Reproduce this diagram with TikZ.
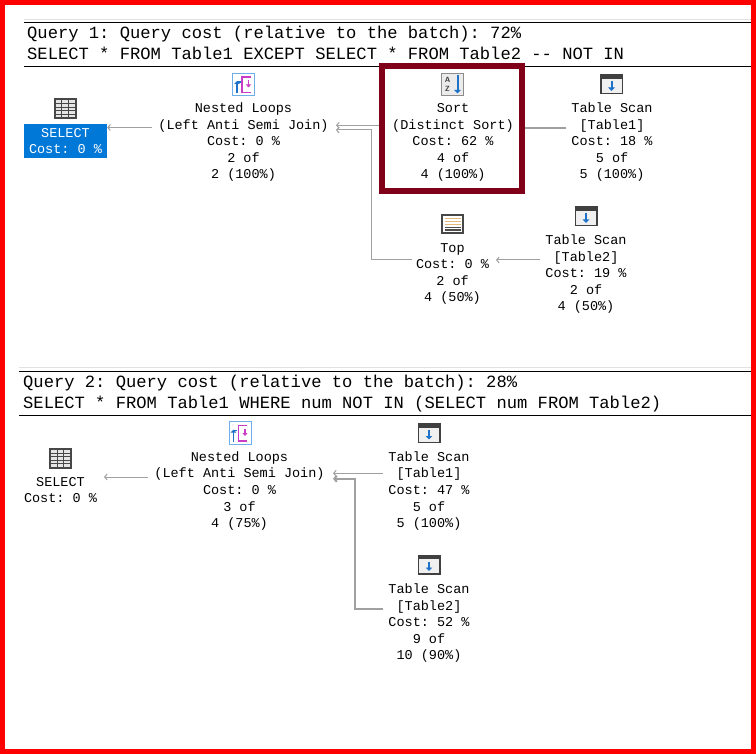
\documentclass[tikz,border=0pt]{standalone}
\usepackage{fontspec}
\setmonofont{Liberation Mono}
\usetikzlibrary{arrows.meta}
\definecolor{selblue}{RGB}{0,120,215}
\definecolor{sortred}{RGB}{128,0,26}
\definecolor{conngray}{RGB}{160,160,160}
\definecolor{iconblue}{RGB}{30,115,200}
\definecolor{iconlblue}{RGB}{110,175,235}
\definecolor{iconmag}{RGB}{200,60,200}
\definecolor{icontan}{RGB}{225,185,120}
\definecolor{headgray}{RGB}{225,225,225}
\tikzset{
  optext/.style={font=\fontsize{13.5}{16.6}\selectfont\ttfamily, align=center, inner sep=0pt, anchor=north, text=black},
  hdr/.style={font=\fontsize{17.15}{21}\selectfont\ttfamily, anchor=base west, inner sep=0pt},
  conn/.style={draw=conngray, line width=1pt},
  arr/.style={conn, -{Straight Barb[length=2.5pt,width=6pt]}},
  tblicon/.pic={
    \fill[black!72] (-11.5,-10.5) rectangle (11.5,10.5);
    \fill[black!10] (-9.5,-8.5) rectangle (9.5,8.5);
    \foreach \yy in {-4.6,-1.2,2.2,5.6} \draw[black!72, line width=1.1pt] (-9.5,\yy) -- (9.5,\yy);
    \foreach \xx in {-3.2,3.2} \draw[black!72, line width=1.1pt] (\xx,-8.5) -- (\xx,8.5);
  },
  scanicon/.pic={
    \fill[black!75] (-11.5,-10) rectangle (11.5,10);
    \fill[black!6] (-10,-5.5) rectangle (10,8.5);
    \draw[iconblue, line width=2pt, -{Triangle[length=3.5pt,width=6.5pt]}] (0,-3) -- (0,6.5);
  },
  sorticon/.pic={
    \fill[black!45] (-11.5,-11.5) rectangle (11.5,11.5);
    \fill[black!8] (-10.5,-10.5) rectangle (10.5,10.5);
    \node[inner sep=0, font=\fontsize{7.5}{8}\selectfont\sffamily\bfseries, text=black!75] at (-5,-4.5) {A};
    \node[inner sep=0, font=\fontsize{7.5}{8}\selectfont\sffamily\bfseries, text=black!75] at (-5,4.8) {Z};
    \draw[iconblue, line width=2pt, -{Triangle[length=3.5pt,width=6.5pt]}] (5,-9) -- (5,9);
  },
  nlicon/.pic={
    \draw[iconlblue, line width=1pt, fill=white] (-11,-11) rectangle (11,11);
    \draw[iconmag, line width=1.6pt] (7,-7.5) -- (-1.5,-7.5) -- (-1.5,8) -- (7,8);
    \draw[iconmag, line width=1.6pt, -{Triangle[length=3pt,width=5pt]}] (5,-4) -- (5,3);
    \draw[iconblue, line width=1.6pt, -{Triangle[length=3pt,width=5.5pt]}] (-6.5,9) -- (-6.5,-3.5);
    \draw[iconblue, line width=1.4pt] (-6.5,-2.5) -- (-3,-2.5);
  },
  topicon/.pic={
    \fill[black!72] (-11.5,-10) rectangle (11.5,10);
    \fill[white] (-9.5,-8) rectangle (9.5,8);
    \foreach \yy in {-5.5,-2.5,0.5} \draw[icontan, line width=1.4pt] (-8,\yy) -- (8,\yy);
    \foreach \yy in {3.5,6} \draw[black!70, line width=1.2pt] (-8,\yy) -- (8,\yy);
  },
}
\begin{document}
\begin{tikzpicture}[x=1pt,y=-1pt]
\useasboundingbox (0,0) rectangle (756,754);
\fill[white] (0,0) rectangle (756,754);
\draw[red, line width=5pt] (2.5,2.5) rectangle (753.5,751.5);

% ---------- Query 1 header ----------
\draw[headgray, line width=1pt] (24,20) -- (751,20);
\draw[black, line width=1pt] (24,22.5) -- (751,22.5);
\node[hdr] (q1a) at (27,39) {Query 1: Query cost (relative to the batch): 72\%};
\node[hdr] (q1b) at (27,60) {SELECT * FROM Table1 EXCEPT SELECT * FROM Table2 -{}- NOT IN};
\draw[black, line width=1pt] (24,67) -- (751,67);

% ---------- Query 1 nodes ----------
\node[fill=selblue, inner sep=0pt, minimum width=83pt, minimum height=34pt] (sel1box) at (65.5,141.5) {};
\pic at (65,108.5) {tblicon};
\node[optext, text=white] (sel1) at (65.5,126) {\rule{0pt}{11pt}SELECT\\Cost: 0 \%};

\pic at (243.5,84.5) {nlicon};
\node[optext] (nl1) at (243.5,101.3) {\rule{0pt}{11pt}Nested Loops\\(Left Anti Semi Join)\\Cost: 0 \%\\2 of\\2 (100\%)};

\pic at (452.5,84.5) {sorticon};
\node[optext] (sort1) at (453,101.3) {\rule{0pt}{11pt}Sort\\(Distinct Sort)\\Cost: 62 \%\\4 of\\4 (100\%)};

\pic at (611.5,84.5) {scanicon};
\node[optext] (ts11) at (612,101.3) {\rule{0pt}{11pt}Table Scan\\{[Table1]}\\Cost: 18 \%\\5 of\\5 (100\%)};

\pic at (452.5,224) {topicon};
\node[optext] (top1) at (452.5,241) {\rule{0pt}{11pt}Top\\Cost: 0 \%\\2 of\\4 (50\%)};

\pic at (586,216.5) {scanicon};
\node[optext] (ts21) at (586,233.3) {\rule{0pt}{11pt}Table Scan\\{[Table2]}\\Cost: 19 \%\\2 of\\4 (50\%)};

% ---------- Query 1 connectors ----------
\coordinate (nl1out) at (152,127.5);
\coordinate (nl1in1) at (336,125.3);
\coordinate (nl1in2) at (336,130);
\coordinate (sort1out) at (383,125.3);
\coordinate (bend1) at (371,130);
\coordinate (top1out) at (412,259.5);
\coordinate (top1in) at (496,260);
\coordinate (ts21out) at (540,260);
\coordinate (ts11out) at (566,127.7);
\coordinate (sort1in) at (523,127.7);
\draw[arr] (nl1out) -- (sel1box.east |- nl1out);
\draw[arr] (sort1out) -- (nl1in1);
\draw[arr] (top1out) -| (bend1) -- (nl1in2);
\draw[conn, line width=2pt] (ts11out) -- (sort1in);
\draw[arr] (ts21out) -- (top1in);

\node[draw=sortred, line width=6pt, minimum width=140pt, minimum height=125pt, inner sep=0pt] (sortbox) at (452,128.8) {};

% ---------- Query 2 header ----------
\draw[headgray, line width=1pt] (19,368) -- (751,368);
\draw[black, line width=1pt] (19,372) -- (751,372);
\node[hdr] (q2a) at (23,388) {Query 2: Query cost (relative to the batch): 28\%};
\node[hdr] (q2b) at (23,409) {SELECT * FROM Table1 WHERE num NOT IN (SELECT num FROM Table2)};
\draw[black, line width=1pt] (19,416) -- (751,416);

% ---------- Query 2 nodes ----------
\pic at (60.5,458) {tblicon};
\node[optext] (sel2) at (60.5,475) {\rule{0pt}{11pt}SELECT\\Cost: 0 \%};

\pic at (240,433) {nlicon};
\node[optext] (nl2) at (239.5,450) {\rule{0pt}{11pt}Nested Loops\\(Left Anti Semi Join)\\Cost: 0 \%\\3 of\\4 (75\%)};

\pic at (429,433) {scanicon};
\node[optext] (ts12) at (429,450) {\rule{0pt}{11pt}Table Scan\\{[Table1]}\\Cost: 47 \%\\5 of\\5 (100\%)};

\pic at (429,564.5) {scanicon};
\node[optext] (ts22) at (429,582.3) {\rule{0pt}{11pt}Table Scan\\{[Table2]}\\Cost: 52 \%\\9 of\\10 (90\%)};

% ---------- Query 2 connectors ----------
\coordinate (nl2out) at (148,477);
\coordinate (sel2in) at (104,477);
\coordinate (ts12out) at (383,473.3);
\coordinate (nl2in1) at (333,473.3);
\coordinate (ts22out) at (383,609);
\coordinate (bend2) at (355,478.8);
\coordinate (nl2in2) at (333,478.8);
\draw[arr] (nl2out) -- (sel2in);
\draw[arr] (ts12out) -- (nl2in1);
\draw[conn, line width=2pt, -{Straight Barb[length=2.5pt,width=6pt]}] (ts22out) -| (bend2) -- (nl2in2);
\end{tikzpicture}
\end{document}
